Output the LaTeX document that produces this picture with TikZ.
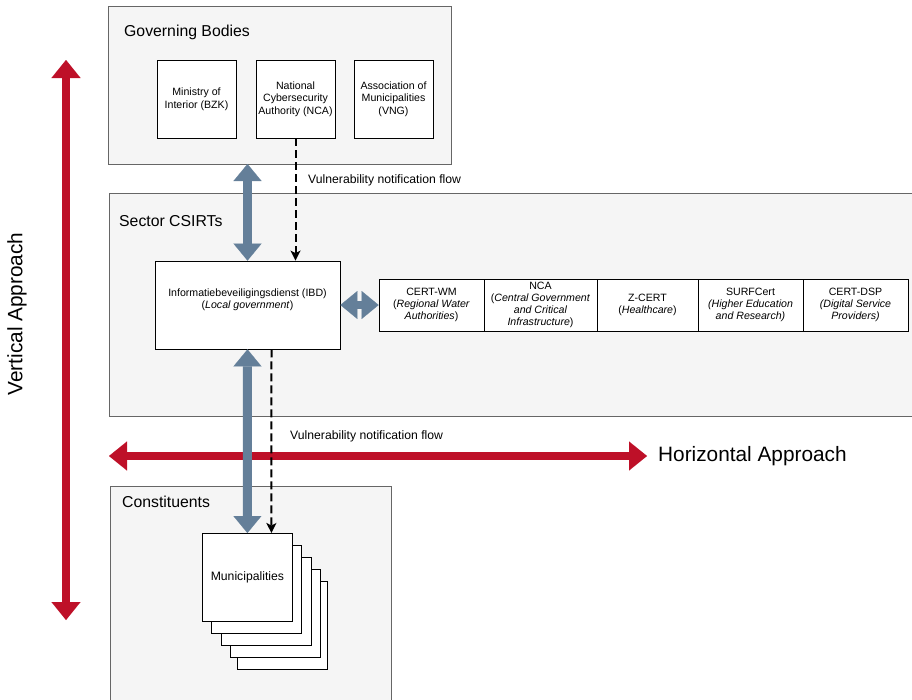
\documentclass[tikz,border=0pt]{standalone}
\usepackage{fontspec}
\setmainfont{Liberation Sans}
\usetikzlibrary{arrows.meta,calc}
\definecolor{contfill}{HTML}{F5F5F5}
\definecolor{contline}{HTML}{666666}
\definecolor{blu}{HTML}{647F99}
\definecolor{rd}{HTML}{BE1028}
\begin{document}
\begin{tikzpicture}[x=1pt,y=-1pt,
  container/.style={draw=contline, fill=contfill, line width=0.8pt},
  wbox/.style={draw=black, fill=white, line width=0.8pt, align=center, inner sep=1pt,
    font=\fontsize{10.6}{12.6}\selectfont},
  titletext/.style={anchor=west, inner sep=0pt, font=\fontsize{15.8}{18}\selectfont},
  flowlabel/.style={anchor=west, inner sep=0pt, font=\fontsize{12.2}{14}\selectfont},
  bigtext/.style={inner sep=0pt, font=\fontsize{20.8}{23}\selectfont},
  bluearrow/.style={blu, line width=9pt,
    {Triangle[width=28pt,length=17pt,line width=0.1pt]}-{Triangle[width=28pt,length=17pt,line width=0.1pt]}},
  smallblue/.style={blu, line width=8pt,
    {Triangle[width=28pt,length=17pt,line width=0.1pt]}-{Triangle[width=28pt,length=17pt,line width=0.1pt]}},
  redarrow/.style={rd, line width=8pt,
    {Triangle[width=29pt,length=18pt,line width=0.1pt]}-{Triangle[width=29pt,length=18pt,line width=0.1pt]}},
  flowarrow/.style={black, line width=2pt, dash pattern=on 8pt off 4pt,
    -{Stealth[length=10pt,width=10pt,inset=2.5pt]}}
]
\useasboundingbox (0,0) rectangle (912,699);

% containers
\draw[container] (108,6) rectangle (451,164);
\coordinate (govS) at (279.5,164);
\draw[container] (109,193) rectangle (916,416);
\draw[container] (110,486) rectangle (391,705);

\node[titletext] (govt) at (124,32) {Governing Bodies};
\node[titletext] (sect) at (119,221) {Sector CSIRTs};
\node[titletext] (cont) at (122,502) {Constituents};

% governing bodies
\node[wbox, minimum width=79pt, minimum height=78pt] (bzk) at (196.5,99) {Ministry of\\Interior (BZK)};
\node[wbox, minimum width=79pt, minimum height=78pt] (nca) at (295.5,99) {National\\Cybersecurity\\Authority (NCA)};
\node[wbox, minimum width=79pt, minimum height=78pt] (vng) at (393.5,99) {Association of\\Municipalities\\(VNG)};

% IBD
\node[wbox, minimum width=185pt, minimum height=88pt] (ibd) at (247.5,305) {};
\node[align=center, inner sep=0pt, font=\fontsize{10.6}{12}\selectfont] (ibdt) at (247.5,300)
  {Informatiebeveiligingsdienst (IBD)\\(\textit{Local government})};

% sector CSIRT row
\node[wbox, minimum width=105pt, minimum height=52pt, font=\fontsize{10.6}{12}\selectfont] (cwm) at (431.5,305) {CERT-WM\\(\textit{Regional Water}\\\textit{Authorities})};
\node[wbox, minimum width=113pt, minimum height=52pt, font=\fontsize{10.6}{12}\selectfont] (ncb) at (540.5,305) {NCA\\(\textit{Central Government}\\\textit{and Critical}\\\textit{Infrastructure})};
\node[wbox, minimum width=101pt, minimum height=52pt, font=\fontsize{10.6}{12}\selectfont] (zc) at (647.5,305) {Z-CERT\\(\textit{Healthcare})};
\node[wbox, minimum width=105pt, minimum height=52pt, font=\fontsize{10.6}{12}\selectfont] (surf) at (750.5,305) {SURFCert\\\textit{(Higher Education}\\\textit{and Research)}};
\node[wbox, minimum width=105pt, minimum height=52pt, font=\fontsize{10.6}{12}\selectfont] (dsp) at (855.5,305) {CERT-DSP\\\textit{(Digital Service}\\\textit{Providers)}};

% municipalities stack
\foreach \xx/\yy/\nm in {237/581/m5, 230/569/m4, 221/557/m3, 211/545/m2}{
  \node[wbox, anchor=north west, minimum width=90pt, minimum height=88pt] (\nm) at (\xx,\yy) {};
}
\node[wbox, anchor=north west, minimum width=90pt, minimum height=88pt,
  font=\fontsize{12.2}{14}\selectfont] (m1) at (202,533) {Municipalities};

% red approach arrows
\coordinate (hL) at (109,456);
\coordinate (hR) at (647,456);
\draw[redarrow] (hL) -- (hR);
\node[bigtext, anchor=west] (hlab) at (658,456) {Horizontal Approach};
\coordinate (vT) at (66,60);
\coordinate (vB) at (66,620);
\draw[redarrow] (vT) -- (vB);
\node[bigtext, rotate=90] (vlab) at (17,314) {Vertical Approach};

% blue arrows
\draw[bluearrow] (ibd.north |- govS) -- (ibd.north);
\draw[bluearrow] (ibd.south) -- (m1.north);
\draw[smallblue] (ibd.east) -- (cwm.west);

% notification flows
\draw[flowarrow] (nca.south) -- (nca.south |- ibd.north);
\node[flowlabel] (fl1) at (308,180) {Vulnerability notification flow};
\draw[flowarrow] ($(ibd.south)+(24,0)$) -- ($(m1.north)+(24,0)$);
\node[flowlabel] (fl2) at (290,436) {Vulnerability notification flow};
\end{tikzpicture}
\end{document}
